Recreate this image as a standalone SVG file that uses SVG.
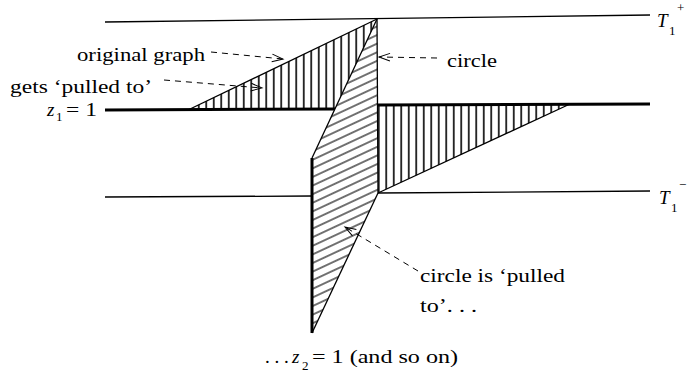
<svg xmlns="http://www.w3.org/2000/svg" width="688" height="376" viewBox="0 0 688 376">
<style>
.t{font-family:'Liberation Serif','Times New Roman',serif;font-size:19px;fill:#000}
.i{font-style:italic}
.s{font-size:13px}
.ln{stroke:#000;stroke-width:1.3;fill:none}
.th{stroke:#000;stroke-width:3;fill:none}
.d{stroke:#000;stroke-width:1;stroke-dasharray:6 5;fill:none}
</style>
<defs>
<pattern id="vh" width="7.5" height="10" patternUnits="userSpaceOnUse">
<line x1="3.75" y1="0" x2="3.75" y2="10" stroke="#000" stroke-width="1.6"/>
</pattern>
<pattern id="dh" width="30" height="7.8" patternUnits="userSpaceOnUse" patternTransform="rotate(-25)">
<line x1="0" y1="3.9" x2="30" y2="3.9" stroke="#000" stroke-width="1.1"/>
</pattern>
<marker id="ah" markerWidth="14" markerHeight="10" refX="12" refY="5" orient="auto" markerUnits="userSpaceOnUse">
<path d="M1,1.2 L12,5 L1,8.8" fill="none" stroke="#000" stroke-width="1"/>
</marker>
</defs>

<g id="levels">
<line class="ln" x1="105" y1="22" x2="650" y2="15"/>
<line class="ln" x1="105" y1="197" x2="312" y2="196"/>
<line class="ln" x1="378" y1="193" x2="650" y2="191"/>
</g>

<g id="original-graph">
<polygon points="188,110 377,19 377,109" fill="url(#vh)"/>
<line class="ln" x1="188" y1="110" x2="377" y2="19"/>
<line class="th" x1="105" y1="110" x2="336" y2="109"/>
<polygon points="378,105 570,104 378,193" fill="url(#vh)"/>
<line class="ln" x1="570" y1="104" x2="378" y2="193"/>
<line class="th" x1="378" y1="105" x2="650" y2="104"/>
</g>

<g id="circle">
<polygon points="377,19 378,193 312,333 312,158" fill="#fff"/>
<polygon points="377,19 378,193 312,333 312,158" fill="url(#dh)"/>
<line class="ln" x1="377" y1="19" x2="312" y2="158"/>
<line class="ln" x1="378" y1="193" x2="312" y2="333"/>
<line class="ln" x1="377" y1="19" x2="378" y2="193" stroke-width="1.6"/>
<line class="th" x1="312" y1="158" x2="312" y2="333"/>
</g>

<g id="labels">
<text class="t" x="77" y="61" textLength="128" lengthAdjust="spacingAndGlyphs">original graph</text>
<text class="t" x="10" y="93" textLength="142" lengthAdjust="spacingAndGlyphs">gets ‘pulled to’</text>
<text class="t" y="116"><tspan class="i" x="47">z</tspan><tspan class="s" x="56" y="121">1</tspan><tspan x="66" y="116" textLength="31" lengthAdjust="spacingAndGlyphs">= 1</tspan></text>
<text class="t" x="447" y="67" textLength="50" lengthAdjust="spacingAndGlyphs">circle</text>
<text class="t" y="27"><tspan class="i" x="657">T</tspan><tspan class="s" x="669" y="35">1</tspan><tspan class="s" x="677" y="12">+</tspan></text>
<text class="t" y="204"><tspan class="i" x="659">T</tspan><tspan class="s" x="671" y="212">1</tspan><tspan class="s" x="679" y="189">−</tspan></text>
<text class="t" x="420" y="282" textLength="145" lengthAdjust="spacingAndGlyphs">circle is ‘pulled</text>
<text class="t" x="420" y="312" textLength="57" lengthAdjust="spacingAndGlyphs">to’. . .</text>
<text class="t" y="363"><tspan x="265">. . .</tspan><tspan class="i" x="292">z</tspan><tspan class="s" x="302" y="370">2</tspan><tspan x="312" y="363" textLength="146" lengthAdjust="spacingAndGlyphs">= 1 (and so on)</tspan></text>
</g>

<g id="connectors">
<line class="d" x1="211" y1="52" x2="283" y2="59" marker-end="url(#ah)"/>
<line class="d" x1="164" y1="80" x2="262" y2="88" marker-end="url(#ah)"/>
<line class="d" x1="437" y1="58" x2="379" y2="57" marker-end="url(#ah)"/>
<line class="d" x1="418" y1="271" x2="345" y2="227" marker-end="url(#ah)"/>
</g>
</svg>
